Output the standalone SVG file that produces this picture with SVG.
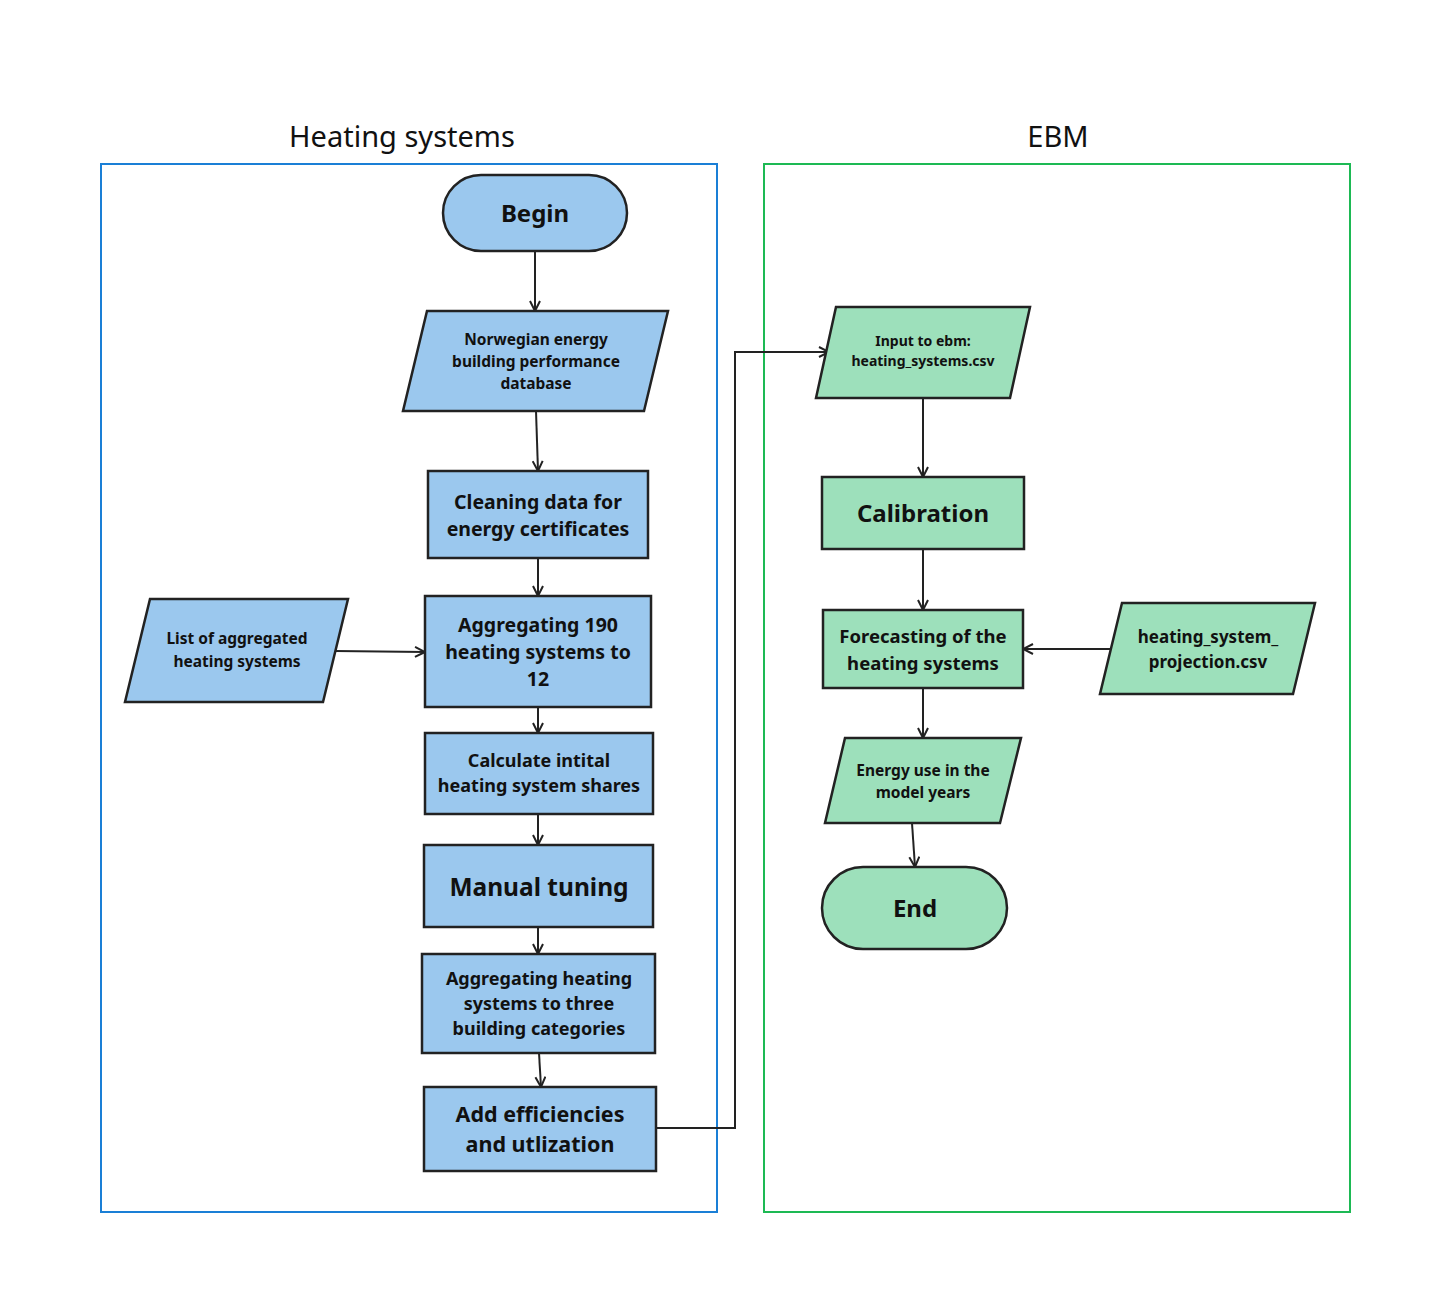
<svg xmlns="http://www.w3.org/2000/svg" width="1451" height="1313" viewBox="0 0 1451 1313">
<defs>
<style>
.t{font-family:"Noto Sans","Liberation Sans",sans-serif;font-weight:700;fill:#111;text-anchor:middle}
.h{font-family:"Noto Sans","Liberation Sans",sans-serif;font-weight:400;fill:#111;text-anchor:middle;font-size:29px}
.b{fill:#9BC8EE;stroke:#222;stroke-width:2.5}
.g{fill:#9DE0BB;stroke:#222;stroke-width:2.5}
.c{fill:none;stroke:#222;stroke-width:2}
</style>
<marker id="ar" viewBox="0 0 12 12" refX="11" refY="6" markerWidth="12" markerHeight="12" markerUnits="userSpaceOnUse" orient="auto">
<polyline points="1,1 11,6 1,11" fill="none" stroke="#222" stroke-width="2"/>
</marker>
</defs>
<rect width="1451" height="1313" fill="#fff"/>
<g id="containers">
<rect x="101" y="164" width="616" height="1048" fill="none" stroke="#1A7FD6" stroke-width="2"/>
<rect x="764" y="164" width="586" height="1048" fill="none" stroke="#1DB954" stroke-width="2"/>
<text class="h" x="402" y="147">Heating systems</text>
<text class="h" x="1058" y="147">EBM</text>
</g>
<g id="connectors">
<line class="c" x1="535" y1="251" x2="535" y2="311" marker-end="url(#ar)"/>
<line class="c" x1="536" y1="411" x2="538" y2="471" marker-end="url(#ar)"/>
<line class="c" x1="538" y1="558" x2="538" y2="596" marker-end="url(#ar)"/>
<line class="c" x1="335" y1="651" x2="425" y2="652" marker-end="url(#ar)"/>
<line class="c" x1="538" y1="707" x2="538" y2="733" marker-end="url(#ar)"/>
<line class="c" x1="538" y1="814" x2="538" y2="845" marker-end="url(#ar)"/>
<line class="c" x1="538" y1="927" x2="538" y2="954" marker-end="url(#ar)"/>
<line class="c" x1="539" y1="1053" x2="541" y2="1087" marker-end="url(#ar)"/>
<polyline class="c" points="656,1128 735,1128 735,352 829,352" marker-end="url(#ar)"/>
<line class="c" x1="923" y1="398" x2="923" y2="477" marker-end="url(#ar)"/>
<line class="c" x1="923" y1="549" x2="923" y2="610" marker-end="url(#ar)"/>
<line class="c" x1="1110" y1="649" x2="1023" y2="649" marker-end="url(#ar)"/>
<line class="c" x1="923" y1="688" x2="923" y2="738" marker-end="url(#ar)"/>
<line class="c" x1="912" y1="823" x2="915" y2="867" marker-end="url(#ar)"/>
</g>
<g id="begin">
<rect class="b" x="443" y="175" width="184" height="76" rx="38"/>
<text class="t" x="535" y="222" font-size="24">Begin</text>
</g>
<g id="norwegian">
<polygon class="b" points="427,311 668,311 644,411 403,411"/>
<text class="t" font-size="15.5"><tspan x="536" y="345">Norwegian energy</tspan><tspan x="536" y="367">building performance</tspan><tspan x="536" y="389">database</tspan></text>
</g>
<g id="cleaning">
<rect class="b" x="428" y="471" width="220" height="87"/>
<text class="t" font-size="19.5"><tspan x="538" y="509">Cleaning data for</tspan><tspan x="538" y="536">energy certificates</tspan></text>
</g>
<g id="list">
<polygon class="b" points="150,599 348,599 323,702 125,702"/>
<text class="t" font-size="15.5"><tspan x="237" y="644">List of aggregated</tspan><tspan x="237" y="667">heating systems</tspan></text>
</g>
<g id="agg190">
<rect class="b" x="425" y="596" width="226" height="111"/>
<text class="t" font-size="19.5"><tspan x="538" y="632">Aggregating 190</tspan><tspan x="538" y="659">heating systems to</tspan><tspan x="538" y="686">12</tspan></text>
</g>
<g id="calculate">
<rect class="b" x="425" y="733" width="228" height="81"/>
<text class="t" font-size="18"><tspan x="539" y="767">Calculate intital</tspan><tspan x="539" y="792">heating system shares</tspan></text>
</g>
<g id="manual">
<rect class="b" x="424" y="845" width="229" height="82"/>
<text class="t" x="539" y="896" font-size="24.5">Manual tuning</text>
</g>
<g id="aggthree">
<rect class="b" x="422" y="954" width="233" height="99"/>
<text class="t" font-size="18"><tspan x="539" y="985">Aggregating heating</tspan><tspan x="539" y="1010">systems to three</tspan><tspan x="539" y="1035">building categories</tspan></text>
</g>
<g id="addeff">
<rect class="b" x="424" y="1087" width="232" height="84"/>
<text class="t" font-size="21.5"><tspan x="540" y="1122">Add efficiencies</tspan><tspan x="540" y="1152">and utlization</tspan></text>
</g>
<g id="input">
<polygon class="g" points="836,307 1030,307 1010,398 816,398"/>
<text class="t" font-size="14"><tspan x="923" y="346">Input to ebm:</tspan><tspan x="923" y="366">heating_systems.csv</tspan></text>
</g>
<g id="calibration">
<rect class="g" x="822" y="477" width="202" height="72"/>
<text class="t" x="923" y="522" font-size="24">Calibration</text>
</g>
<g id="forecasting">
<rect class="g" x="823" y="610" width="200" height="78"/>
<text class="t" font-size="18.5"><tspan x="923" y="643">Forecasting of the</tspan><tspan x="923" y="670">heating systems</tspan></text>
</g>
<g id="projection">
<polygon class="g" points="1122,603 1315,603 1293,694 1100,694"/>
<text class="t" font-size="17"><tspan x="1208" y="643">heating_system_</tspan><tspan x="1208" y="668">projection.csv</tspan></text>
</g>
<g id="energyuse">
<polygon class="g" points="845,738 1021,738 1000,823 825,823"/>
<text class="t" font-size="15.5"><tspan x="923" y="776">Energy use in the</tspan><tspan x="923" y="798">model years</tspan></text>
</g>
<g id="end">
<rect class="g" x="822" y="867" width="185" height="82" rx="41"/>
<text class="t" x="915" y="917" font-size="24">End</text>
</g>
</svg>
